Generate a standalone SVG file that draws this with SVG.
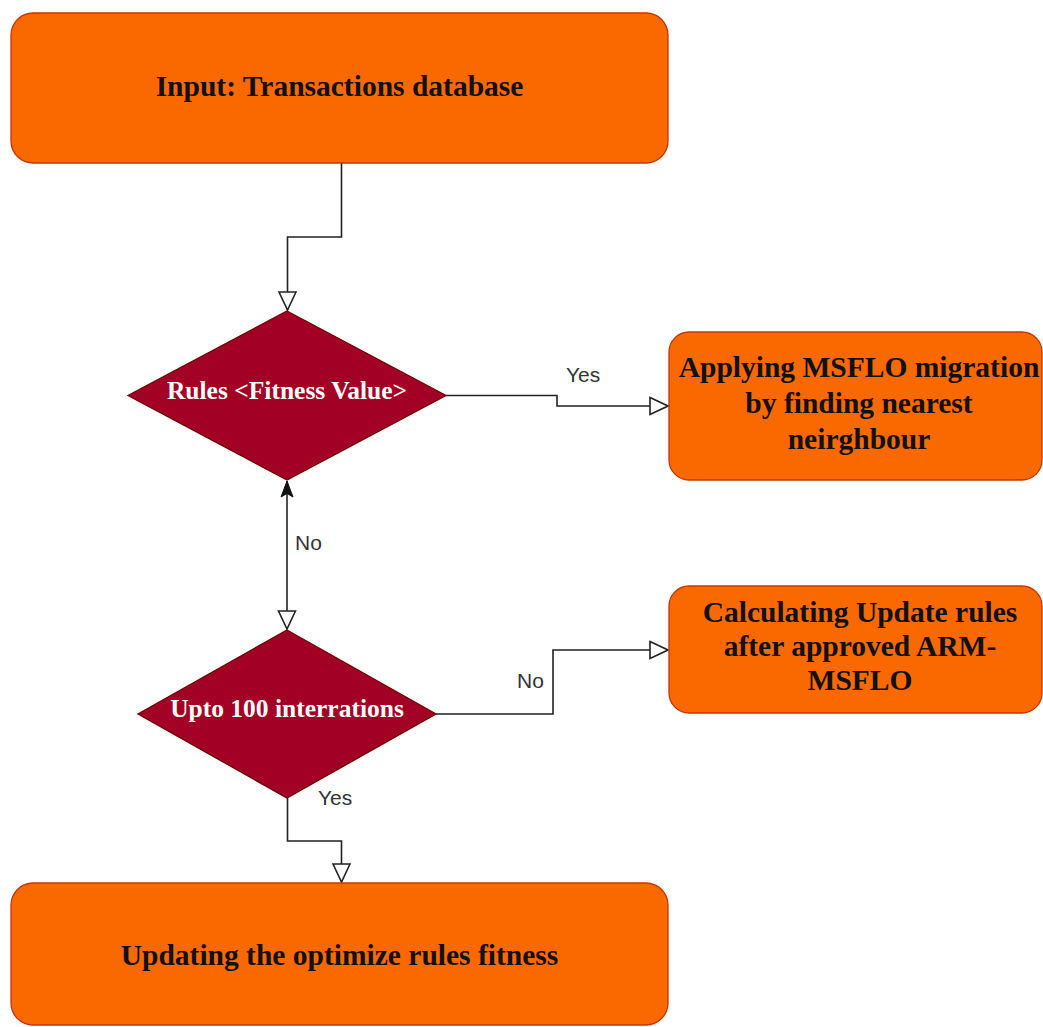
<svg xmlns="http://www.w3.org/2000/svg" width="1043" height="1027" viewBox="0 0 1043 1027">
  <style>
    .box { fill: #FA6800; stroke: #C73500; stroke-width: 1.3; }
    .dia { fill: #A20025; stroke: #6F0000; stroke-width: 1.3; }
    .bt { font-family: "Liberation Serif", "Times New Roman", serif; font-weight: bold; font-size: 29.5px; fill: #111; text-anchor: middle; }
    .dt { font-family: "Liberation Serif", "Times New Roman", serif; font-weight: bold; font-size: 25.5px; fill: #ffffff; text-anchor: middle; }
    .lbl { font-family: "Liberation Sans", Arial, sans-serif; font-size: 21px; fill: #333; }
    .edge { fill: none; stroke: #222; stroke-width: 1.6; }
  </style>
  <defs>
    <marker id="open" markerUnits="userSpaceOnUse" markerWidth="20" markerHeight="20" viewBox="0 0 20 20" refX="19" refY="10" orient="auto">
      <path d="M1,1.5 L19,10 L1,18.5 Z" fill="#fff" stroke="#222" stroke-width="1.6"/>
    </marker>
    <marker id="filled" markerUnits="userSpaceOnUse" markerWidth="18" markerHeight="18" viewBox="0 0 18 18" refX="17" refY="9" orient="auto-start-reverse">
      <path d="M1,3 L17,9 L1,15 L4.5,9 Z" fill="#111" stroke="#111" stroke-width="1"/>
    </marker>
  </defs>

  <g id="connectors">
    <path class="edge" d="M341.5,163 V237 H287.5 V310" marker-end="url(#open)"/>
    <path class="edge" d="M446,395.5 H557 V406 H668" marker-end="url(#open)"/>
    <path class="edge" d="M287,481 V629" marker-start="url(#filled)" marker-end="url(#open)"/>
    <path class="edge" d="M436,714 H553 V650 H668" marker-end="url(#open)"/>
    <path class="edge" d="M287.5,798 V841 H341.5 V882" marker-end="url(#open)"/>
    <text class="lbl" x="566" y="382">Yes</text>
    <text class="lbl" x="295" y="550">No</text>
    <text class="lbl" x="517" y="688">No</text>
    <text class="lbl" x="318" y="805">Yes</text>
  </g>

  <g id="input">
    <rect class="box" x="11" y="13" width="657" height="150" rx="22" ry="22"/>
    <text class="bt" x="339.5" y="96">Input: Transactions database</text>
  </g>

  <g id="rules">
    <polygon class="dia" points="287,311 446,395.5 287,480 128,395.5"/>
    <text class="dt" x="287" y="399">Rules &lt;Fitness Value&gt;</text>
  </g>

  <g id="applying">
    <rect class="box" x="669" y="332" width="373" height="148" rx="20" ry="20"/>
    <text class="bt" x="859" y="377">Applying MSFLO migration</text>
    <text class="bt" x="859" y="413">by finding nearest</text>
    <text class="bt" x="859" y="449">neirghbour</text>
  </g>

  <g id="iterations">
    <polygon class="dia" points="287,630 436,714 287,798 138,714"/>
    <text class="dt" x="287" y="717">Upto 100 interrations</text>
  </g>

  <g id="calculating">
    <rect class="box" x="669" y="586" width="373" height="127" rx="20" ry="20"/>
    <text class="bt" x="860" y="622">Calculating Update rules</text>
    <text class="bt" x="860" y="656">after approved ARM-</text>
    <text class="bt" x="860" y="690">MSFLO</text>
  </g>

  <g id="updating">
    <rect class="box" x="11" y="883" width="657" height="142" rx="22" ry="22"/>
    <text class="bt" x="339.5" y="965">Updating the optimize rules fitness</text>
  </g>
</svg>
